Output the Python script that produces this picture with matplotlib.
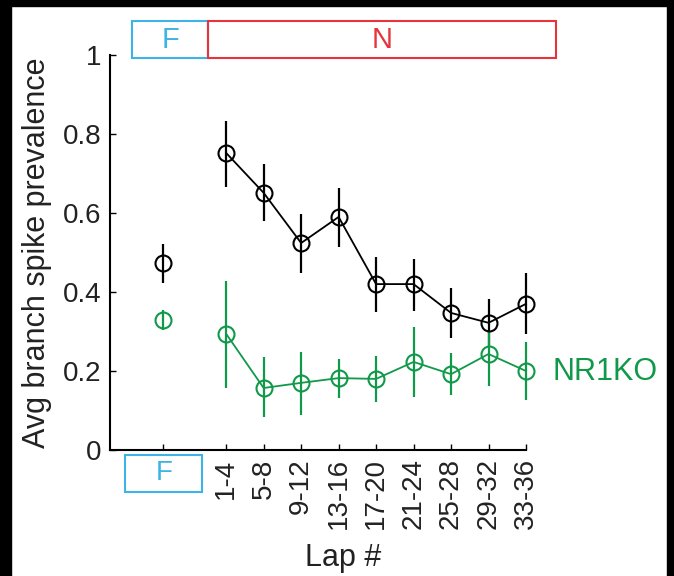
import numpy as np
import matplotlib
matplotlib.use('Agg')
import matplotlib.pyplot as plt
from matplotlib.patches import Rectangle

plt.rcParams['font.family'] = ['Liberation Sans', 'DejaVu Sans']

lap_labels = ['1-4', '5-8', '9-12', '13-16', '17-20',
              '21-24', '25-28', '29-32', '33-36']

# familiar environment (F), one value per genotype
ctrl_f = 0.473
ctrl_f_err = (0.423, 0.522)
ko_f = 0.329
ko_f_err = (0.304, 0.354)

# novel environment (N), per lap bin
ctrl_mean = [0.752, 0.651, 0.524, 0.590, 0.420, 0.420, 0.347, 0.322, 0.370]
ctrl_lo = [0.666, 0.580, 0.448, 0.514, 0.349, 0.352, 0.284, 0.262, 0.294]
ctrl_hi = [0.833, 0.724, 0.597, 0.663, 0.489, 0.484, 0.410, 0.382, 0.448]

ko_mean = [0.294, 0.157, 0.170, 0.182, 0.180, 0.223, 0.192, 0.243, 0.200]
ko_lo = [0.157, 0.084, 0.089, 0.132, 0.122, 0.134, 0.139, 0.162, 0.127]
ko_hi = [0.428, 0.235, 0.248, 0.230, 0.238, 0.311, 0.246, 0.300, 0.273]

yticks = [0, 0.2, 0.4, 0.6, 0.8, 1]
ytick_labels = ['0', '0.2', '0.4', '0.6', '0.8', '1']

green = '#11994a'
blue = '#3cb4e5'
red = '#e8333d'

x_f = -0.68
x_laps = np.arange(1, len(lap_labels) + 1)

fig = plt.figure(figsize=(6.74, 5.76), dpi=100)
ax = fig.add_axes([110/674, 1 - 450/576, 416/674, 395/576])


def draw_series(ax, x, mean, lo, hi, color, line=True):
    mean = np.asarray(mean)
    yerr = np.vstack([mean - np.asarray(lo), np.asarray(hi) - mean])
    ax.errorbar(x, mean, yerr=yerr, fmt='o-' if line else 'o',
                color=color, mfc='none', mec=color, ms=11.5, mew=1.5,
                lw=1.3, elinewidth=1.6, capsize=0, clip_on=False)


draw_series(ax, x_laps, ctrl_mean, ctrl_lo, ctrl_hi, 'black')
draw_series(ax, x_laps, ko_mean, ko_lo, ko_hi, green)
draw_series(ax, [x_f], [ctrl_f], [ctrl_f_err[0]], [ctrl_f_err[1]],
            'black', line=False)
draw_series(ax, [x_f], [ko_f], [ko_f_err[0]], [ko_f_err[1]],
            green, line=False)

ax.set_xlim(-2.1, 9)
ax.set_ylim(0, 1)
ax.set_yticks(yticks)
ax.set_yticklabels(ytick_labels)
ax.set_xticks([x_f] + list(x_laps))
ax.set_xticklabels([''] + lap_labels, rotation=90)

for side in ['top', 'right']:
    ax.spines[side].set_visible(False)
for side in ['left', 'bottom']:
    ax.spines[side].set_linewidth(1.5)
ax.tick_params(direction='in', length=4, width=1, labelsize=20,
               pad=6, colors='black', labelcolor='#222222')

ax.set_ylabel('Avg branch spike prevalence', fontsize=22, color='#222222')
ax.yaxis.set_label_coords(-0.14, 0.5)
ax.set_xlabel('Lap #', fontsize=22, color='#222222')
ax.xaxis.set_label_coords(0.56, -0.235)

ax.text(9.72, 0.197, 'NR1KO', color=green, fontsize=22,
        ha='left', va='center', clip_on=False)


# condition boxes above and below the axes
def cond_box(x0, x1, y0, y1, label, color, size):
    ax.add_patch(Rectangle((x0, y0), x1 - x0, y1 - y0, fill=False,
                           ec=color, lw=1.5, clip_on=False))
    ax.text((x0 + x1) / 2, (y0 + y1) / 2, label, color=color,
            fontsize=size, ha='center', va='center', clip_on=False)


cond_box(-1.507, 0.52, 0.992, 1.086, 'F', blue, 21)
cond_box(0.52, 9.8, 0.992, 1.086, 'N', red, 21)
cond_box(-1.693, 0.36, -0.106, -0.0127, 'F', blue, 20)

# dark frame along the top, left and right edges
for x0, y0, w, h in [(0, 0, 11, 576), (667, 0, 7, 576), (0, 570, 674, 6)]:
    fig.patches.append(Rectangle((x0/674, y0/576), w/674, h/576,
                                 transform=fig.transFigure, color='black',
                                 zorder=10))

fig.savefig('out.png', dpi=100)
